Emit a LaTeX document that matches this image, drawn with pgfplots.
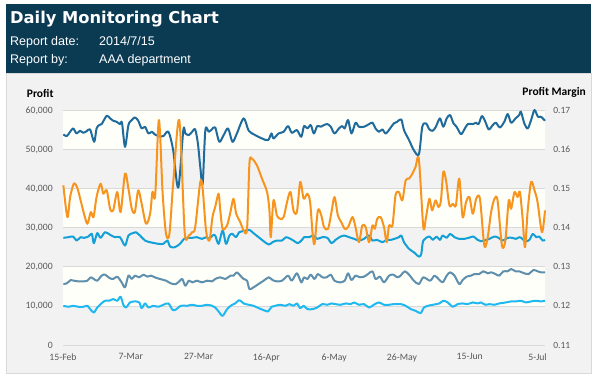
\documentclass[border=0pt]{standalone}
\usepackage{fontspec}
\setmainfont{Carlito}
\newfontfamily\dejavu{DejaVu Sans}
\newfontfamily\arial{Liberation Sans}
\usepackage{pgfplots}
\pgfplotsset{compat=1.18}
\definecolor{hdr}{HTML}{0B3A53}
\definecolor{panel}{HTML}{F2F2F2}
\definecolor{band}{HTML}{FFFFFA}
\definecolor{gridc}{HTML}{D9D9D9}
\definecolor{cDark}{HTML}{1F6B9B}
\definecolor{cOrange}{HTML}{F7941E}
\definecolor{cCyan}{HTML}{12A0D7}
\definecolor{cGray}{HTML}{5E8FAD}
\definecolor{cLight}{HTML}{20B8F0}
\definecolor{tickc}{HTML}{595959}
\begin{document}
\begin{tikzpicture}[x=1pt,y=1pt]
\fill[white] (0,0) rectangle (599,379);
\fill[hdr] (6,306) rectangle (591,375);
\filldraw[fill=panel, draw=gridc] (6,6) rectangle (591,306);
\fill[band] (63,229.25) rectangle (545,268.3);
\fill[band] (63,151.15) rectangle (545,190.2);
\fill[band] (63,73.05) rectangle (545,112.1);
\node[anchor=base west, inner sep=0, text=white, font=\dejavu\bfseries\fontsize{16.3}{18}\selectfont] at (10,355.7) {Daily Monitoring Chart};
\node[anchor=base west, inner sep=0, text=white, font=\arial\fontsize{12.5}{14}\selectfont] at (10,333.3) {Report date:};
\node[anchor=base west, inner sep=0, text=white, font=\arial\fontsize{12.5}{14}\selectfont] at (99,333.3) {2014/7/15};
\node[anchor=base west, inner sep=0, text=white, font=\arial\fontsize{12.5}{14}\selectfont] at (10,315) {Report by:};
\node[anchor=base west, inner sep=0, text=white, font=\arial\fontsize{12.5}{14}\selectfont] at (99,315) {AAA department};
\node[anchor=base west, inner sep=0, font=\bfseries\fontsize{11.5}{13}\selectfont] at (26.7,281.7) {Profit};
\node[anchor=base east, inner sep=0, font=\bfseries\fontsize{11.5}{13}\selectfont] at (586,283) {Profit Margin};
\begin{axis}[at={(63pt,34pt)}, anchor=south west, scale only axis,
  width=482pt, height=234.3pt, xmin=0, xmax=142.2, ymin=0, ymax=60000,
  axis line style={draw=none}, major tick length=0pt,
  ymajorgrids, grid style={gridc, line width=0.8pt},
  xtick={0,20,40,60,80,100,120,140},
  xticklabels={15-Feb,7-Mar,27-Mar,16-Apr,6-May,26-May,15-Jun,5-Jul},
  ytick={0,10000,20000,30000,40000,50000,60000},
  scaled y ticks=false,
  ticklabel style={font=\fontsize{9.7}{11}\selectfont, text=tickc},
  xticklabel style={yshift=-5pt}, yticklabel style={xshift=-6.8pt},
  clip=false,
  every axis plot/.append style={smooth, line width=2pt, line join=round, no markers},
  /pgf/number format/1000 sep={,}, /pgf/number format/assume math mode=true]
\addplot[cCyan] coordinates {(0.1,27440)(1.6,27610)(3.0,27780)(4.0,26750)(5.2,27610)(6.2,27440)(7.5,27780)(8.5,28470)(9.1,26070)(10.1,28640)(11.1,27440)(12.4,28890)(13.9,28210)(15.3,27610)(16.8,27610)(18.3,25470)(19.3,28040)(20.6,28640)(21.5,28890)(22.7,28040)(24.2,26750)(25.7,26320)(27.1,26070)(28.1,25900)(29.6,25900)(30.8,26750)(31.6,25210)(33.0,25040)(34.5,25900)(35.7,27180)(36.6,27440)(38.1,27440)(39.5,27610)(41.0,27180)(42.2,27610)(43.2,27180)(44.1,28040)(44.9,28040)(45.9,25900)(47.1,29320)(48.1,25900)(49.1,28040)(50.0,28470)(51.0,27610)(52.0,28890)(53.0,29150)(54.0,29320)(55.0,29490)(56.2,28640)(57.7,27610)(59.2,26580)(60.7,25720)(61.8,26320)(63.1,26750)(64.6,26750)(65.8,27610)(67.1,27180)(68.0,26750)(69.3,26070)(70.5,26920)(71.1,27610)(72.6,27610)(73.9,28040)(75.0,27180)(76.5,27610)(78.0,27440)(79.2,26070)(80.4,26920)(81.9,27780)(82.9,28040)(84.4,27610)(85.9,27180)(87.3,26750)(88.8,27180)(90.3,28040)(91.3,26750)(92.7,26920)(94.2,26320)(95.5,26920)(96.7,26920)(97.8,27180)(99.1,27610)(99.8,28040)(100.6,26320)(102.1,24610)(103.5,23750)(105.0,22640)(105.7,23330)(106.3,26750)(108.1,27780)(109.1,26920)(110.2,27780)(111.2,26920)(112.0,28040)(113.2,27440)(114.2,28470)(115.5,27610)(116.9,27180)(118.4,27180)(119.7,27440)(121.1,27780)(122.3,26920)(123.3,26580)(124.3,26750)(125.8,27180)(127.3,27780)(128.5,27440)(129.7,26750)(131.2,27440)(132.5,27440)(133.6,27180)(134.8,27610)(136.4,26580)(137.6,26920)(138.6,28470)(139.6,27610)(140.5,27780)(141.5,26750)(142.2,26920)};
\addplot[cGray] coordinates {(0.1,15610)(1.1,15780)(2.3,16640)(3.2,16470)(4.5,16300)(6.0,16300)(7.2,16470)(8.2,17330)(9.1,16900)(10.1,16470)(11.4,17760)(12.4,18010)(13.7,17160)(14.8,16900)(16.0,17500)(17.3,16040)(18.3,14760)(19.3,17760)(20.3,16900)(21.2,17760)(22.5,17330)(23.7,18010)(24.9,17500)(25.9,17760)(27.1,17330)(28.6,16900)(30.4,16470)(31.8,15780)(33.3,15610)(34.5,16470)(35.2,16900)(36.1,15180)(37.1,16470)(38.2,16040)(39.5,16470)(41.0,16040)(42.5,16470)(44.0,16300)(44.9,16900)(46.4,17330)(47.9,16900)(49.4,17760)(50.3,17760)(51.3,18610)(52.3,17760)(53.3,16900)(54.3,16470)(55.0,14330)(56.2,14760)(57.7,15610)(59.2,16470)(60.7,17330)(61.8,16640)(63.1,16300)(64.6,16470)(66.4,17760)(67.5,16470)(69.0,18350)(70.3,16040)(71.1,17330)(72.1,16900)(73.1,18010)(74.2,16900)(75.2,18180)(76.5,17330)(77.8,17330)(79.0,18010)(80.1,16470)(81.7,16040)(83.1,16470)(84.1,18350)(85.1,16640)(86.3,17760)(87.6,17330)(88.8,17500)(90.0,18180)(91.3,18870)(92.2,16900)(93.5,17500)(94.7,16040)(96.2,17760)(97.5,18010)(98.6,17330)(99.6,17760)(100.8,18870)(102.1,18010)(103.5,16470)(105.0,15610)(106.3,17330)(108.3,16470)(109.6,17760)(110.8,16900)(112.0,16040)(113.2,17760)(114.2,18610)(115.5,17760)(116.9,15610)(117.9,16640)(119.1,17500)(120.4,17760)(121.4,18180)(122.8,18180)(124.0,18870)(125.3,18350)(126.3,18610)(127.6,18180)(128.7,17760)(129.9,18870)(131.2,18870)(132.2,19470)(133.5,18870)(134.6,18870)(136.1,18350)(137.4,18180)(138.8,19210)(140.0,18870)(141.0,18610)(142.2,18610)};
\addplot[cLight] coordinates {(0.1,10040)(1.6,9790)(3.0,10040)(4.5,9790)(6.0,9790)(7.2,10040)(8.0,9190)(9.1,8330)(10.1,9610)(11.1,10470)(12.4,11330)(13.7,11330)(14.8,11760)(16.0,11330)(17.0,12360)(17.8,10300)(18.6,9610)(19.8,10900)(21.2,11160)(22.5,10900)(23.2,9440)(24.2,10640)(25.2,9610)(26.6,10040)(28.1,9790)(29.6,10300)(31.1,10640)(32.4,8930)(33.5,9190)(34.7,10040)(36.6,10040)(38.1,10300)(39.5,10040)(41.0,10040)(42.5,10300)(44.0,10040)(44.9,9610)(45.9,8590)(47.1,7470)(48.4,9190)(49.9,10300)(50.8,10640)(52.0,11500)(53.3,10640)(54.8,10300)(56.2,10040)(57.7,9440)(59.2,8930)(60.5,8590)(61.5,9790)(62.6,10040)(64.1,10300)(65.6,10040)(66.8,10470)(68.0,10040)(69.0,10640)(70.0,9440)(71.0,10040)(72.1,9190)(73.6,9190)(75.0,9610)(76.5,10470)(78.0,10300)(79.2,10640)(80.4,10470)(81.9,10300)(83.4,10640)(84.9,10470)(85.9,10900)(87.3,10300)(88.8,10470)(90.3,9610)(91.7,10300)(93.2,10900)(94.7,10300)(96.2,10300)(97.6,10470)(99.6,10470)(101.1,10040)(102.6,9190)(104.0,8760)(105.5,8160)(106.5,9610)(107.7,10040)(109.1,10300)(111.0,10640)(112.2,11330)(113.5,10900)(115.0,9790)(116.4,10470)(117.9,10640)(119.4,10470)(120.9,10900)(122.3,10640)(123.3,10900)(124.6,10300)(125.8,10470)(127.3,10300)(128.7,10640)(130.7,10900)(132.2,11160)(133.6,11160)(135.1,11330)(136.6,10900)(138.1,11160)(139.6,11330)(141.0,11160)(142.2,11330)};
\addplot[cDark] coordinates {(0.1,53920)(1.1,53490)(2.1,54600)(3.0,55460)(4.0,54170)(5.0,54860)(6.0,54340)(7.0,54770)(8.0,55200)(9.2,52030)(9.9,55460)(10.7,56320)(11.4,56570)(12.9,58710)(13.9,58030)(14.8,57430)(15.8,57170)(16.8,56570)(17.4,56920)(18.3,50750)(19.3,56320)(20.3,57600)(21.2,58290)(22.2,57430)(23.2,55460)(24.2,55890)(25.2,54170)(26.2,54600)(27.1,53920)(28.1,53490)(29.6,53490)(31.1,54600)(32.5,49890)(34.0,40290)(35.5,55000)(36.1,54170)(37.1,53750)(38.1,54600)(39.0,55200)(39.8,51600)(40.5,45600)(41.2,41320)(42.0,55030)(43.0,54600)(43.9,55200)(44.9,55720)(46.1,52030)(47.4,53750)(48.7,55460)(50.0,52030)(51.3,54170)(53.3,58030)(54.8,54860)(56.7,53750)(58.7,52890)(60.5,52460)(61.5,54170)(62.1,52890)(63.6,54170)(65.1,54600)(66.4,56060)(67.5,54340)(69.0,55030)(70.3,53320)(71.1,56060)(72.1,55460)(73.1,56320)(74.0,54170)(75.0,56060)(76.0,55890)(77.0,56320)(78.0,56570)(79.0,55890)(80.1,54170)(81.4,55460)(82.4,56060)(83.1,55460)(84.1,57600)(85.1,54170)(86.3,56920)(87.3,55890)(88.8,55890)(90.3,56570)(91.3,56920)(92.2,55460)(93.2,54600)(94.2,55200)(95.2,54170)(96.5,55460)(97.6,56740)(98.6,57170)(99.8,57770)(100.6,55030)(102.1,52460)(103.5,49890)(105.0,48860)(106.0,55890)(107.1,56740)(108.1,55200)(109.1,54860)(110.0,55890)(111.2,58030)(112.2,55890)(113.2,58030)(114.2,58890)(115.2,56740)(116.1,55890)(117.4,54000)(118.4,55200)(119.4,56570)(120.9,56570)(121.9,56920)(122.6,56570)(123.6,58630)(124.6,57170)(125.6,55200)(126.8,56320)(127.7,56920)(128.9,55720)(130.2,57170)(131.2,59140)(132.2,56920)(133.5,58030)(134.6,58890)(135.1,59740)(136.1,56740)(137.1,55460)(138.1,57600)(139.1,60170)(140.1,58460)(141.0,58460)(142.2,57430)};
\addplot[cOrange] coordinates {(0.1,40890)(1.3,32750)(2.1,37890)(3.2,41320)(4.2,40290)(5.2,37030)(6.2,33610)(7.2,31040)(8.2,34040)(9.0,32750)(9.9,37890)(11.1,41320)(11.9,38750)(12.9,39610)(13.9,34890)(14.8,34460)(16.0,39180)(17.0,34040)(18.3,43890)(19.3,40030)(20.3,34890)(21.2,34040)(22.2,39610)(23.2,36180)(24.5,31040)(25.7,33610)(26.4,39180)(27.2,38320)(28.3,57600)(29.4,38750)(30.4,28470)(31.4,28470)(32.5,41320)(34.3,57600)(35.9,28890)(37.1,28040)(38.1,28890)(39.0,30180)(40.5,41750)(41.2,40030)(42.2,29320)(43.2,26750)(44.1,32750)(44.9,35320)(45.9,38750)(46.4,34460)(47.1,29750)(48.4,30610)(49.4,34040)(50.3,37460)(51.1,33610)(52.3,31470)(53.3,29320)(54.3,29750)(55.0,46460)(55.7,47750)(57.2,46030)(58.7,42610)(60.2,39180)(60.9,34460)(61.3,27610)(62.1,37030)(63.1,33180)(64.1,32320)(65.1,32750)(66.1,36610)(67.1,39180)(68.0,34460)(69.0,34040)(70.0,41750)(71.0,37460)(72.1,38750)(72.9,36610)(73.6,28890)(74.2,25900)(75.2,34460)(76.2,33180)(77.0,30180)(78.2,29750)(79.2,34040)(80.1,37890)(81.1,33180)(82.1,31470)(83.1,29750)(84.1,30180)(85.4,32750)(86.3,30180)(87.3,26320)(88.3,30610)(89.3,30180)(90.3,26320)(91.3,30610)(92.0,29750)(92.7,32320)(93.7,32750)(94.7,30180)(95.5,26320)(96.2,30610)(97.2,30610)(98.1,38320)(99.1,39180)(100.1,37030)(101.1,42180)(102.1,42610)(103.1,43890)(104.0,45600)(105.0,47490)(106.3,30180)(107.1,32750)(108.1,37460)(108.9,34460)(109.9,37030)(110.8,35320)(111.5,37030)(112.2,44320)(113.0,42180)(114.0,35750)(115.0,36180)(115.9,35750)(116.9,42610)(117.9,32750)(118.9,36610)(119.9,37890)(120.9,33610)(121.9,37460)(123.0,37460)(124.3,25470)(125.3,27610)(126.3,34040)(127.3,37460)(128.2,37030)(129.5,25470)(130.5,26750)(131.5,37030)(132.2,34890)(133.2,39180)(134.1,37890)(134.8,39180)(135.6,32320)(136.3,25040)(137.1,34460)(138.1,41750)(139.1,39610)(140.0,36610)(141.3,28890)(142.2,34460)};
\end{axis}
\begin{axis}[at={(63pt,34pt)}, anchor=south west, scale only axis,
  width=482pt, height=234.3pt, xmin=0, xmax=142.2, ymin=0.11, ymax=0.17,
  hide x axis, axis y line*=right, axis line style={draw=none}, major tick length=0pt,
  ytick={0.11,0.12,0.13,0.14,0.15,0.16,0.17},
  ticklabel style={font=\fontsize{9.5}{11}\selectfont, text=tickc},
  yticklabel style={xshift=4.8pt, /pgf/number format/fixed, /pgf/number format/precision=2, /pgf/number format/zerofill},
  /pgf/number format/assume math mode=true]
\addplot[draw=none] coordinates {(0,0.11)(142.2,0.17)};
\end{axis}
\end{tikzpicture}
\end{document}
